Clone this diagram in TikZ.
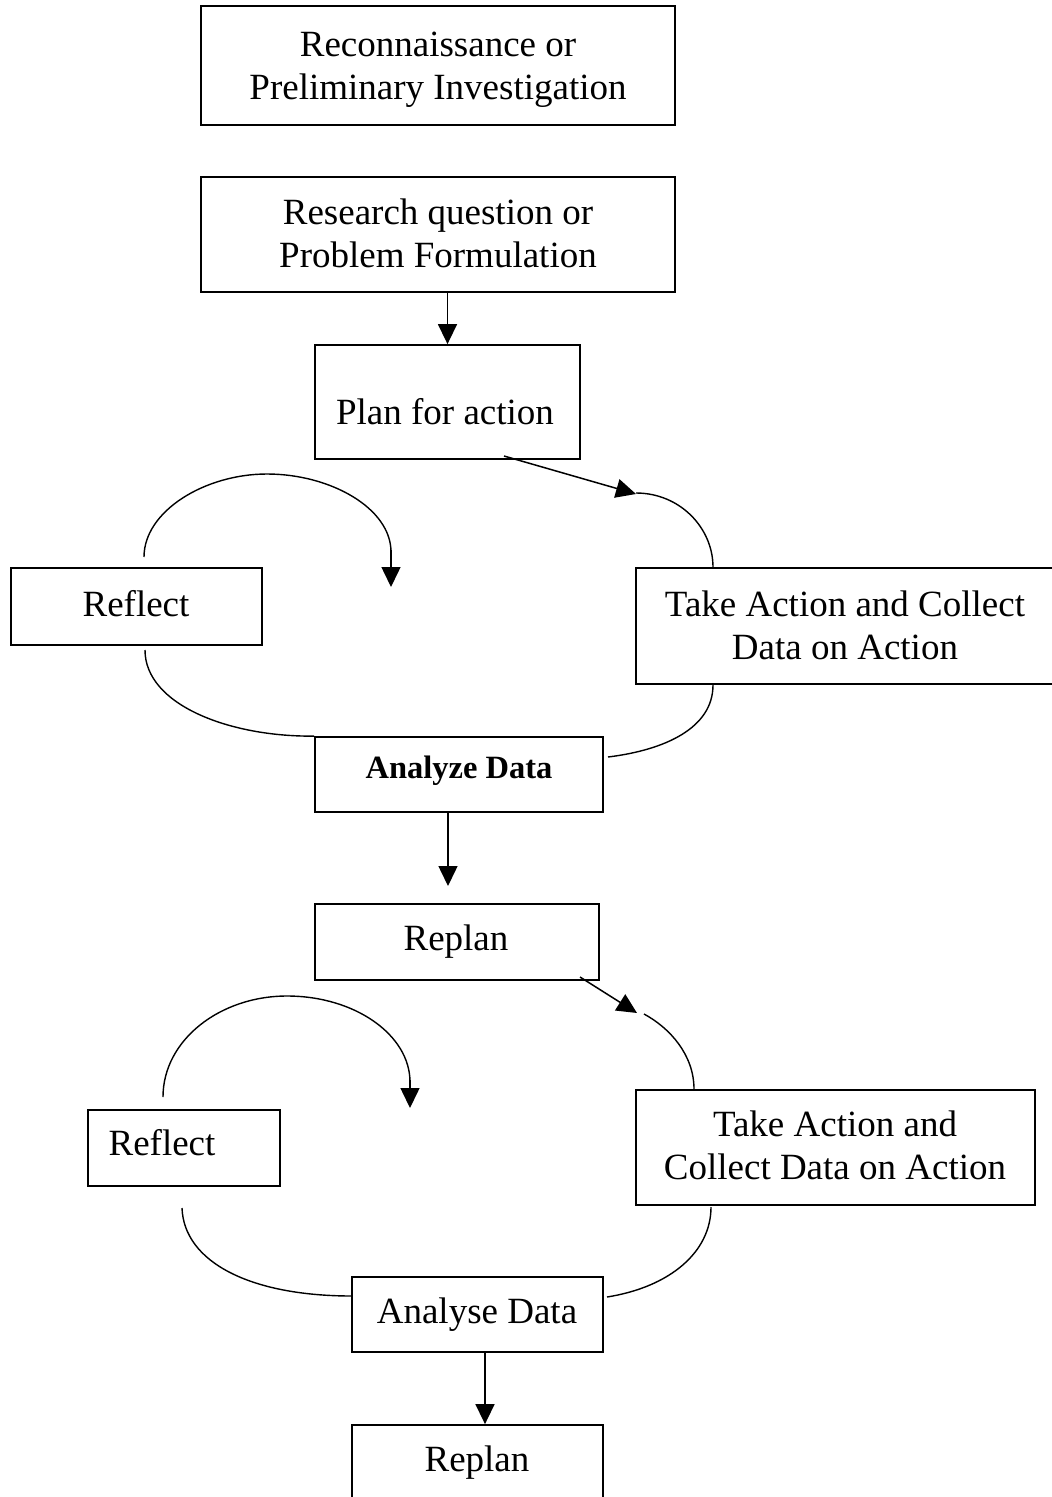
\documentclass[tikz,border=0pt]{standalone}
\usepackage{fontspec}
\setmainfont{Liberation Serif}
\usetikzlibrary{arrows.meta,calc}
\begin{document}
\begin{tikzpicture}[x=1pt,y=-1pt,
  box/.style={draw,line width=1.8pt,rectangle,inner sep=0pt},
  txt/.style={inner sep=0pt,anchor=north,align=center,font=\fontsize{37}{43}\selectfont},
  btxt/.style={inner sep=0pt,anchor=north,align=center,font=\fontsize{32.5}{40}\selectfont\bfseries},
  conn/.style={line width=1.4pt},
  arr/.style={line width=1.5pt,-{Triangle[length=20pt,width=19pt]}}]
\useasboundingbox (0,0) rectangle (1052,1497);
% boxes
\newcommand\mybox[5]{\node[box,minimum width={#4-#2},minimum height={#5-#3}] (#1) at ({(#2+#4)/2},{(#3+#5)/2}) {};}
\mybox{recon}{201}{6}{675}{125}
\mybox{research}{201}{177}{675}{292}
\mybox{plan}{315}{345}{580}{459}
\mybox{reflectA}{11}{568}{262}{645}
\mybox{takeA}{636}{568}{1054}{684}
\mybox{analyzeA}{315}{737}{603}{812}
\mybox{replanA}{315}{904}{599}{980}
\mybox{reflectB}{88}{1110}{280}{1186}
\mybox{takeB}{636}{1090}{1035}{1205}
\mybox{analyseB}{352}{1277}{603}{1352}
\mybox{replanB}{352}{1425}{603}{1512}
% texts
\node[txt] (t-recon) at (438,31.5) {Reconnaissance or\\Preliminary Investigation};
\node[txt] (t-research) at (438,198.5) {Research question or\\Problem Formulation};
\node[txt] (t-plan) at (445,398.5) {Plan for action};
\node[txt] (t-reflectA) at (136,590.5) {Reflect};
\node[txt] (t-takeA) at (845,590.5) {Take Action and Collect\\Data on Action};
\node[btxt] (t-analyzeA) at (459,756) {Analyze Data};
\node[txt] (t-replanA) at (456,924.5) {Replan};
\node[txt] (t-reflectB) at (162,1129.5) {Reflect};
\node[txt] (t-takeB) at (835,1110.5) {Take Action and\\Collect Data on Action};
\node[txt] (t-analyseB) at (477,1297.5) {Analyse Data};
\node[txt] (t-replanB) at (477,1445.5) {Replan};
% coordinates
\coordinate (p1) at (504,456);
\coordinate (tip1) at (636,494);
\coordinate (ra1) at (636,493);
\coordinate (la1) at (144,557);
\coordinate (tip2) at (391,587);
\coordinate (lb1) at (145,650);
\coordinate (rb1) at (713,685);
\coordinate (rc1) at (608,757);
\coordinate (tip3) at (448,886);
\coordinate (p2) at (580,977);
\coordinate (tip4) at (637,1013);
\coordinate (ra2) at (644,1014);
\coordinate (la2) at (163,1097);
\coordinate (tip5) at (410,1108);
\coordinate (lb2) at (182,1208);
\coordinate (lc2) at (352,1296);
\coordinate (rb2) at (711,1207);
\coordinate (rc2) at (607,1297);
% connectors
\draw[arr] (research.south -| plan.north) -- (plan.north);
\draw[arr] (p1) -- (tip1);
\draw[conn] (ra1) .. controls (680,493) and (713,528) .. (takeA.north -| 713,0);
\draw[conn] (la1) .. controls (144,511) and (205,474) .. (267,474) .. controls (330,474) and (391,508) .. (391,552);
\draw[arr] (391,550) -- (tip2);
\draw[conn] (lb1) .. controls (145,705) and (230,737) .. (analyzeA.north west);
\draw[conn] (rb1) .. controls (713,728) and (665,750) .. (rc1);
\draw[arr] (analyzeA.south -| tip3) -- (tip3);
\draw[arr] (p2) -- (tip4);
\draw[conn] (ra2) .. controls (670,1028) and (694,1055) .. (takeB.north -| 694,0);
\draw[conn] (la2) .. controls (163,1040) and (220,996) .. (287,996) .. controls (355,996) and (410,1035) .. (410,1082);
\draw[arr] (410,1080) -- (tip5);
\draw[conn] (lb2) .. controls (184,1262) and (250,1296) .. (lc2);
\draw[conn] (rb2) .. controls (711,1252) and (670,1287) .. (rc2);
\draw[arr] (analyseB.south -| 485,0) -- (replanB.north -| 485,0);
\end{tikzpicture}
\end{document}
